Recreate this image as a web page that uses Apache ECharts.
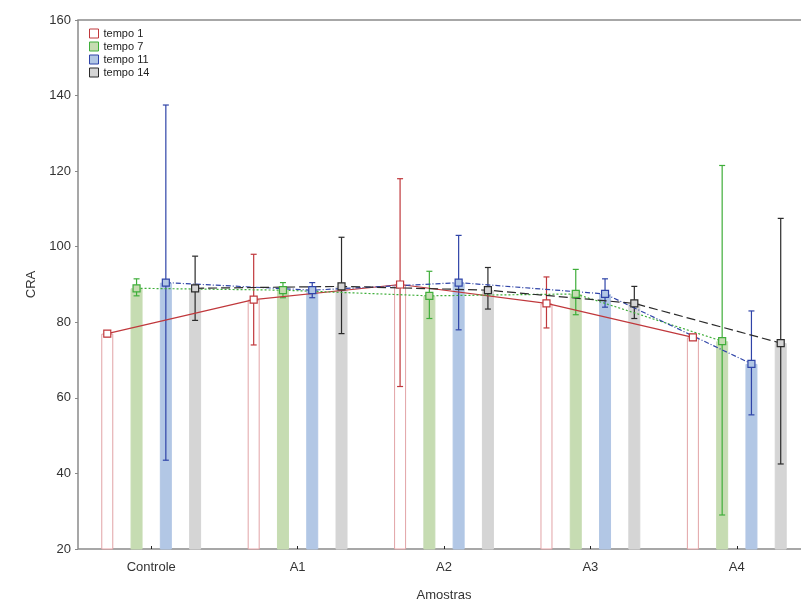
<!DOCTYPE html>
<html>
<head>
<meta charset="utf-8">
<script src="https://cdn.jsdelivr.net/npm/echarts@6/dist/echarts.min.js"></script>
<style>
  html, body { margin: 0; padding: 0; background: #fff; }
  #chart { width: 801px; height: 602px; }
</style>
</head>
<body>
<div id="chart"></div>
<script>
// amostras
var categories = ['Controle', 'A1', 'A2', 'A3', 'A4']
var seriesNames = ['tempo 1', 'tempo 7', 'tempo 11', 'tempo 14']
var yTicks = [20, 160, 20] // min, max, interval

// médias e limites dos intervalos
var mean1 = [77, 86, 90, 85, 76]
var upper1 = [77.8, 98, 118, 92, 76.8]
var lower1 = [76.2, 74, 63, 78.5, 75.2]

var mean7 = [89, 88.5, 87, 87.5, 75]
var upper7 = [91.5, 90.5, 93.5, 94, 121.5]
var lower7 = [87, 86.5, 81, 82, 29]

var mean11 = [90.5, 88.5, 90.5, 87.5, 69]
var upper11 = [137.5, 90.5, 103, 91.5, 83]
var lower11 = [43.5, 86.5, 78, 84, 55.5]

var mean14 = [89, 89.5, 88.5, 85, 74.5]
var upper14 = [97.5, 102.5, 94.5, 89.5, 107.5]
var lower14 = [80.5, 77, 83.5, 81, 42.5]

var means = [mean1, mean7, mean11, mean14]
var uppers = [upper1, upper7, upper11, upper14]
var lowers = [lower1, lower7, lower11, lower14]

// estilos
var strokeColors = ['#c0383c', '#3fae3a', '#2f44a8', '#2b2b2b']
var fillColors = ['#ffffff', '#c6dcb2', '#b2c7e5', '#d5d5d5']
var barBorders = ['#e2a3a6', '#c6dcb2', '#b2c7e5', '#d5d5d5']
var lineTypes = ['solid', [2, 2], [5, 2, 1, 2], [9, 4]]
var step = 0.2 // distância entre barras, em unidades de categoria

var chart = echarts.init(document.getElementById('chart'))

var series = []
seriesNames.forEach(function (name, k) {
  series.push({
    name: name,
    type: 'bar',
    xAxisIndex: 0,
    barWidth: 12,
    barGap: '144%',
    data: means[k],
    itemStyle: {
      color: fillColors[k],
      borderColor: barBorders[k],
      borderWidth: 1
    },
    z: 1
  })
})

seriesNames.forEach(function (name, k) {
  var off = (k - 1.5) * step
  var errData = categories.map(function (c, i) {
    return [i + off, lowers[k][i], uppers[k][i]]
  })
  series.push({
    name: name,
    type: 'custom',
    xAxisIndex: 1,
    data: errData,
    z: 3,
    renderItem: function (params, api) {
      var lo = api.coord([api.value(0), api.value(1)])
      var hi = api.coord([api.value(0), api.value(2)])
      var style = { stroke: strokeColors[k], lineWidth: 1.2 }
      return {
        type: 'group',
        children: [
          { type: 'line', shape: { x1: lo[0], y1: lo[1], x2: hi[0], y2: hi[1] }, style: style },
          { type: 'line', shape: { x1: lo[0] - 3, y1: lo[1], x2: lo[0] + 3, y2: lo[1] }, style: style },
          { type: 'line', shape: { x1: hi[0] - 3, y1: hi[1], x2: hi[0] + 3, y2: hi[1] }, style: style }
        ]
      }
    }
  })
})

seriesNames.forEach(function (name, k) {
  var off = (k - 1.5) * step
  series.push({
    name: name,
    type: 'line',
    xAxisIndex: 1,
    data: means[k].map(function (v, i) { return [i + off, v] }),
    symbol: 'rect',
    symbolSize: 7,
    showSymbol: true,
    lineStyle: { color: strokeColors[k], width: 1.2, type: lineTypes[k] },
    itemStyle: { color: fillColors[k], borderColor: strokeColors[k], borderWidth: 1.2 },
    z: 4
  })
})

var option = {
  animation: false,
  backgroundColor: '#fff',
  textStyle: { fontFamily: 'Liberation Sans, Arial, sans-serif' },
  grid: {
    left: 78,
    top: 20,
    width: 732,
    height: 529,
    outerBoundsMode: 'none',
    show: true,
    borderColor: '#8a8a8a',
    borderWidth: 1.5
  },
  legend: {
    orient: 'vertical',
    left: 84,
    top: 23,
    itemWidth: 9,
    itemHeight: 9,
    itemGap: 2,
    textStyle: { fontSize: 11, color: '#222' },
    data: seriesNames.map(function (n, k) {
      return {
        name: n,
        icon: 'rect',
        itemStyle: { color: fillColors[k], borderColor: strokeColors[k], borderWidth: 1 }
      }
    })
  },
  xAxis: [
    {
      type: 'category',
      data: categories,
      name: 'Amostras',
      nameLocation: 'middle',
      nameGap: 40,
      nameTextStyle: { fontSize: 13, color: '#333' },
      axisLine: { show: false },
      axisTick: { show: true, inside: true, length: 3, alignWithLabel: true, interval: 0,
        lineStyle: { color: '#222' } },
      axisLabel: { fontSize: 13, color: '#333', margin: 12 },
      splitLine: { show: false }
    },
    {
      type: 'value',
      min: -0.5,
      max: categories.length - 0.5,
      show: false
    }
  ],
  yAxis: {
    type: 'value',
    min: yTicks[0],
    max: yTicks[1],
    interval: yTicks[2],
    name: 'CRA',
    nameLocation: 'middle',
    nameGap: 34,
    nameTextStyle: { fontSize: 13, color: '#333' },
    axisLine: { show: false, onZero: false },
    axisTick: { show: true, length: 3, lineStyle: { color: '#888' } },
    axisLabel: { fontSize: 13, color: '#333', margin: 7 },
    splitLine: { show: false }
  },
  series: series
}

option && chart.setOption(option)
</script>
</body>
</html>
